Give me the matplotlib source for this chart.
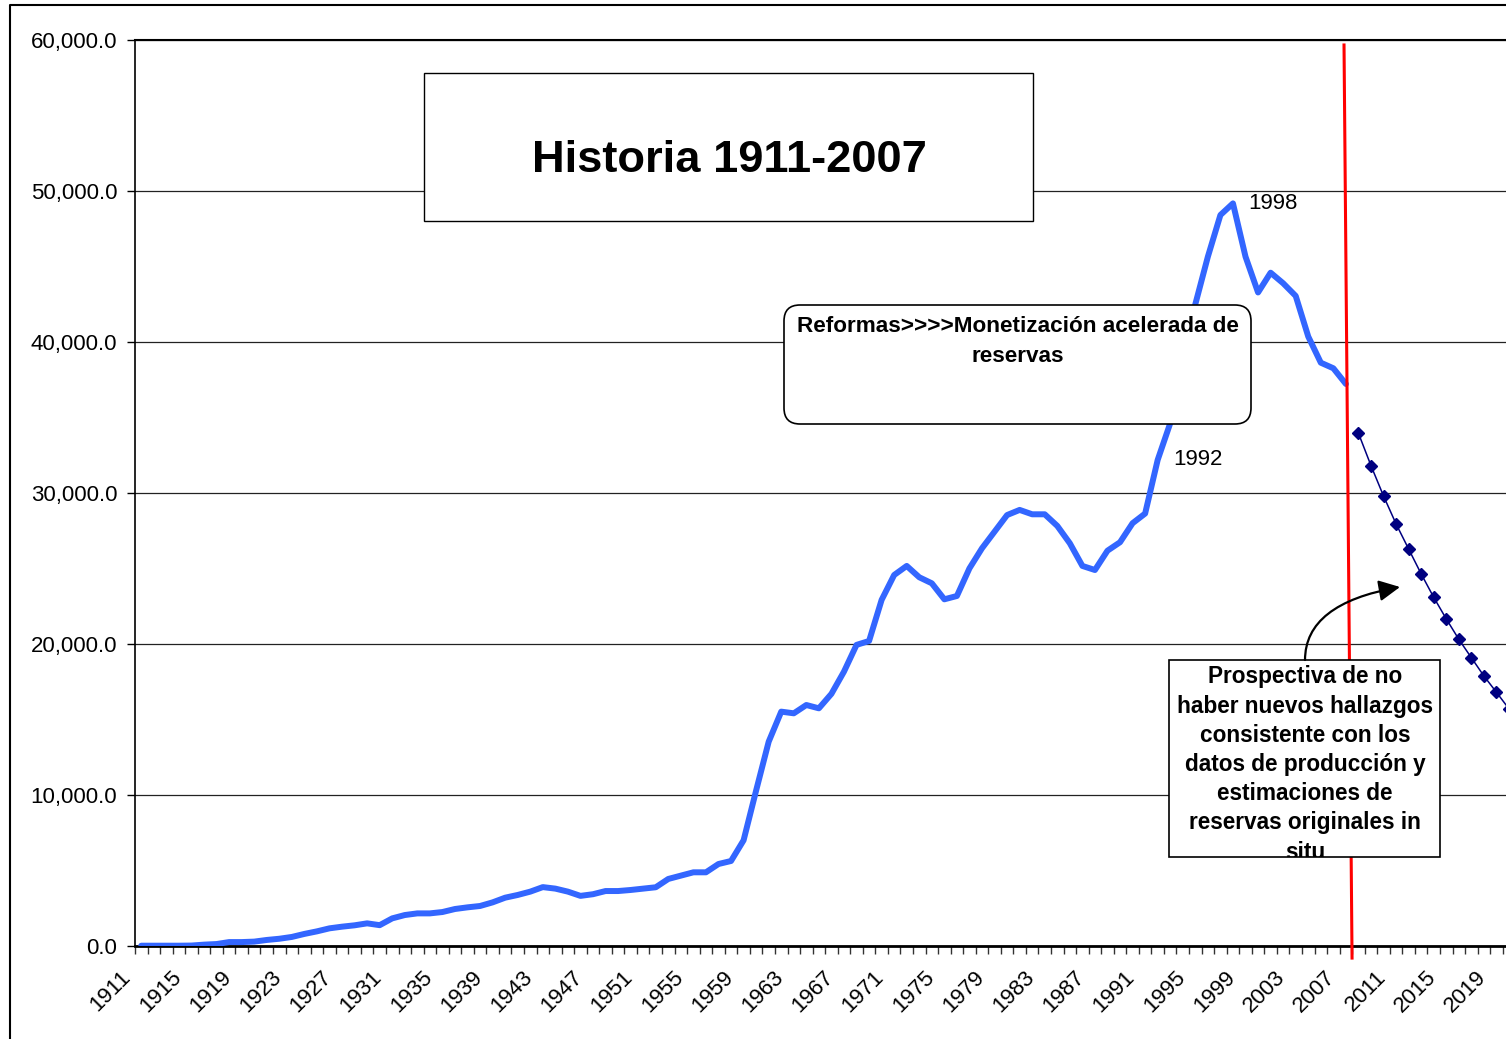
import numpy as np
import matplotlib
matplotlib.use('Agg')
import matplotlib.pyplot as plt
from matplotlib.patches import Rectangle, FancyBboxPatch, FancyArrowPatch
from matplotlib.lines import Line2D
from matplotlib.transforms import IdentityTransform, ScaledTranslation, Bbox
from matplotlib.ticker import FuncFormatter, MultipleLocator, FixedLocator

plt.rcParams['font.family'] = ['Liberation Sans', 'DejaVu Sans']

# historical reserves 1911-2007
years_hist = np.arange(1911, 2008)
reservas_hist = [20, 20, 20, 20, 30, 90, 130, 260, 260, 290,
                 400, 480, 600, 800, 970, 1170, 1280, 1370, 1500, 1380,
                 1830, 2050, 2160, 2160, 2250, 2450, 2560, 2650, 2890, 3200,
                 3380, 3600, 3900, 3800, 3600, 3320, 3430, 3640, 3640, 3710,
                 3800, 3890, 4440, 4660, 4880, 4880, 5430, 5630, 7000, 10300,
                 13530, 15520, 15410, 15960, 15740, 16700, 18170, 19940, 20200, 22920,
                 24570, 25170, 24420, 24020, 22960, 23180, 25010, 26340, 27440, 28540,
                 28880, 28590, 28590, 27820, 26670, 25170, 24900, 26180, 26740, 28000,
                 28640, 32190, 34620, 38600, 42500, 45650, 48410, 49180, 45650, 43280,
                 44590, 43890, 43050, 40360, 38630, 38260, 37220]

# projection without new discoveries
years_proj = np.arange(2008, 2021)
reservas_proj = [33960, 31810, 29800, 27950, 26290, 24640, 23090, 21660, 20310,
                 19090, 17880, 16800, 15700]

label_years = list(range(1911, 2020, 4))
marked_years = [1998, 1992]

# red separator line (year, value) at top and bottom
sep_x = [2006.85, 2007.49]
sep_y = [59670, -800]

W, H = 1506, 1039
fig = plt.figure(figsize=(W / 100, H / 100), dpi=100)


def d(x, y):
    # image pixel -> display pixel
    return (x, H - y)


ax = fig.add_axes([135 / W, (H - 946) / H, (1515.3 - 135) / W, (946 - 40) / H])

ax.plot(years_hist, reservas_hist, color='#3366FF', lw=4.3,
        solid_joinstyle='round', solid_capstyle='round', zorder=3)
ax.plot(years_proj, reservas_proj, color='#000080', lw=1.1, marker='D',
        ms=6, zorder=3, clip_on=False)
ax.plot(sep_x, sep_y, color='#FF0000', lw=2.2, zorder=4, clip_on=False)

for yr in marked_years:
    v = reservas_hist[yr - 1911]
    ax.annotate(str(yr), xy=(yr, v), xytext=(11, 0), textcoords='offset points',
                ha='left', va='center', fontsize=16)

ax.set_xlim(1910.5, 2020.5)
ax.set_ylim(0, 60000)
ax.yaxis.set_major_locator(MultipleLocator(10000))
ax.yaxis.set_major_formatter(FuncFormatter(lambda v, p: f'{v:,.1f}'))
ax.grid(axis='y', color='#222222', lw=0.9)
ax.set_axisbelow(True)

ax.xaxis.set_major_locator(FixedLocator(label_years))
ax.set_xticklabels([str(y) for y in label_years], rotation=45, ha='right', va='top')
ax.xaxis.set_minor_locator(FixedLocator(np.arange(1910.5, 2021, 1)))
ax.tick_params(axis='x', which='major', length=0, labelsize=16, pad=15)
ax.tick_params(axis='x', which='minor', length=5.5, width=1, color='#333333')
ax.tick_params(axis='y', length=5.8, width=1, pad=7, labelsize=16)
off = ScaledTranslation(-6 / 100, 0, fig.dpi_scale_trans)
for lab in ax.get_xticklabels():
    lab.set_transform(lab.get_transform() + off)

ax.spines['right'].set_visible(False)
ax.spines['left'].set_linewidth(1.2)
ax.spines['bottom'].set_linewidth(2)
ax.spines['top'].set_linewidth(1.5)

idt = IdentityTransform()

# outer chart frame
fig.add_artist(Line2D([10, 10, W], [0, H - 5, H - 5], transform=idt,
                      color='black', lw=1.5))

# title box
fig.add_artist(Rectangle(d(424, 221), 609, 148, transform=idt, fc='white',
                         ec='black', lw=1))
fig.text(*d(729, 161), 'Historia 1911-2007', transform=idt, ha='center',
         va='center', fontsize=32.6, fontweight='bold')

# reformas box
fig.add_artist(FancyBboxPatch(d(784, 424), 467, 119,
                              boxstyle='round,pad=0,rounding_size=16',
                              transform=idt, fc='white', ec='black', lw=1.2))
reformas_lines = ['Reformas>>>>Monetización acelerada de', 'reservas']
for i, s in enumerate(reformas_lines):
    fig.text(*d(1018, 327 + i * 29), s, transform=idt, ha='center',
             va='center', fontsize=16.2, fontweight='bold')

# prospectiva box
fig.add_artist(Rectangle(d(1169, 857), 271, 197, transform=idt, fc='white',
                         ec='black', lw=1.2))
prosp_lines = ['Prospectiva de no', 'haber nuevos hallazgos',
               'consistente con los', 'datos de producción y',
               'estimaciones de', 'reservas originales in', 'situ']
clip = Bbox.from_extents(1169, H - 857, 1440, H - 660)
for i, s in enumerate(prosp_lines):
    t = fig.text(*d(1305, 677 + i * 29.2), s, transform=idt, ha='center',
                 va='center', fontsize=16.3, fontweight='bold')
    t.set_clip_box(clip)
    t.set_clip_on(True)

fig.add_artist(FancyArrowPatch(d(1305, 660), d(1400, 587),
                               connectionstyle='angle3,angleA=90,angleB=10',
                               arrowstyle='-|>,head_length=0.8,head_width=0.4',
                               mutation_scale=16, lw=1.6, color='black',
                               transform=idt, shrinkA=0, shrinkB=0))

fig.savefig('out.png', dpi=100)
